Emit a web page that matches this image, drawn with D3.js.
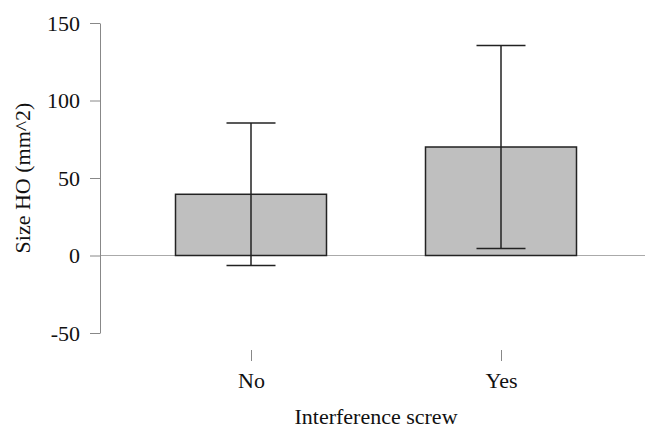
<!DOCTYPE html>
<html><head><meta charset="utf-8">
<script src="https://cdn.jsdelivr.net/npm/d3@7"></script>
<style>body{margin:0;background:#fff}</style>
</head><body>
<script>
const categories = ["No", "Yes"];
const means = [39.5, 70];
const upper = [85.5, 135.5];
const lower = [-6.5, 4.5];
const yTicks = [-50, 0, 50, 100, 150];

const W = 656, H = 430;
const FS = 22;
const svg = d3.select("body").append("svg").attr("width", W).attr("height", H)
  .style("font-family", "'Liberation Serif', 'Times New Roman', serif");

const y = d3.scaleLinear().domain([-50, 150]).range([333, 23]);
const x = d3.scalePoint().domain(categories).range([251, 501]);
const barW = 151, capW = 49;

// zero line
svg.append("line").attr("x1", 100).attr("x2", 645).attr("y1", y(0)).attr("y2", y(0))
  .attr("stroke", "#aaa").attr("stroke-width", 1);

// y axis
const yAxis = d3.axisLeft(y).tickValues(yTicks).tickSize(10).tickPadding(10).tickSizeOuter(0)
  .tickFormat(d => String(d));
const ga = svg.append("g").attr("transform", "translate(100,0)").call(yAxis);
ga.select(".domain").attr("stroke", "#888");
ga.selectAll(".tick line").attr("stroke", "#888");
ga.selectAll(".tick text").attr("font-size", FS).attr("fill", "#111").style("font-family", "'Liberation Serif', serif");

// x axis ticks
const xAxis = d3.axisBottom(x).tickSize(11).tickPadding(0);
const gx = svg.append("g").attr("transform", "translate(0,350)").call(xAxis);
gx.select(".domain").remove();
gx.selectAll(".tick line").attr("stroke", "#888");
gx.selectAll(".tick text").attr("y", 38).attr("dy", 0).attr("font-size", FS).attr("fill", "#111")
  .style("font-family", "'Liberation Serif', serif");

// bars
svg.selectAll("rect.bar").data(categories).enter().append("rect")
  .attr("x", d => x(d) - barW / 2).attr("width", barW)
  .attr("y", (d, i) => y(means[i])).attr("height", (d, i) => y(0) - y(means[i]))
  .attr("fill", "#bfbfbf").attr("stroke", "#222").attr("stroke-width", 1.5);

// error bars
const eb = svg.selectAll("g.err").data(categories).enter().append("g")
  .attr("stroke", "#222").attr("stroke-width", 1.5);
eb.append("line").attr("x1", d => x(d)).attr("x2", d => x(d))
  .attr("y1", (d, i) => y(upper[i])).attr("y2", (d, i) => y(lower[i]));
eb.append("line").attr("x1", d => x(d) - capW / 2).attr("x2", d => x(d) + capW / 2)
  .attr("y1", (d, i) => y(upper[i])).attr("y2", (d, i) => y(upper[i]));
eb.append("line").attr("x1", d => x(d) - capW / 2).attr("x2", d => x(d) + capW / 2)
  .attr("y1", (d, i) => y(lower[i])).attr("y2", (d, i) => y(lower[i]));

// titles
svg.append("text").attr("x", 376).attr("y", 424).attr("text-anchor", "middle")
  .attr("font-size", FS).attr("fill", "#111").text("Interference screw");
svg.append("text").attr("transform", "translate(30,178) rotate(-90)").attr("text-anchor", "middle")
  .attr("font-size", FS).attr("fill", "#111").text("Size HO (mm^2)");
</script>
</body></html>
